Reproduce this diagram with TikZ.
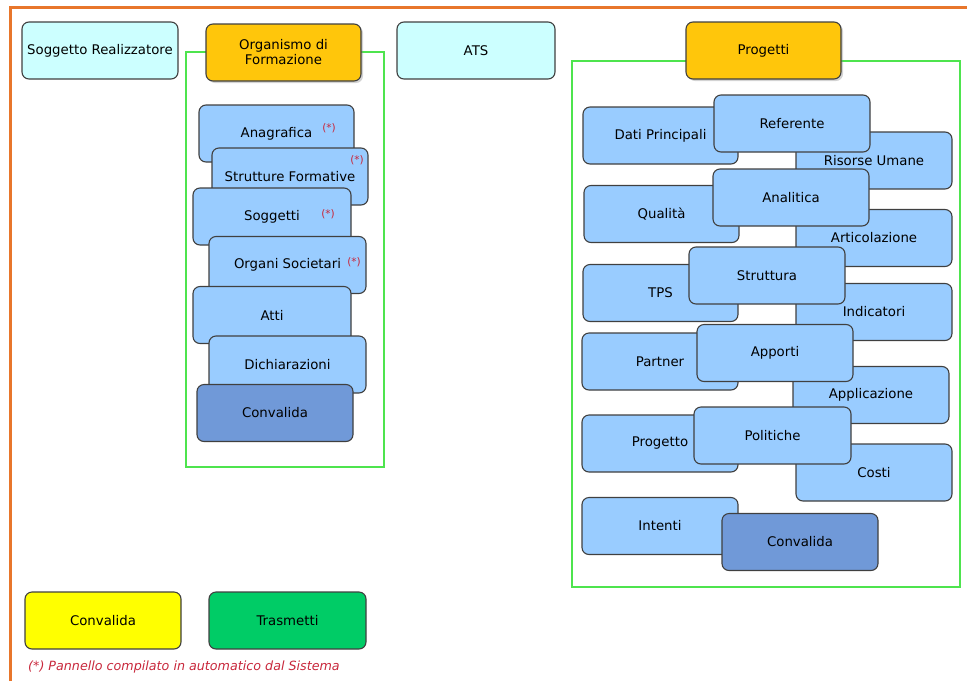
\documentclass[tikz,border=0pt]{standalone}
\usepackage{fontspec}
\setmainfont{DejaVu Sans}
\usetikzlibrary{shadows}
\definecolor{cyanbox}{HTML}{CCFFFF}
\definecolor{goldbox}{HTML}{FFC60B}
\definecolor{lightblue}{HTML}{99CCFF}
\definecolor{darkblue}{HTML}{7099D8}
\definecolor{yellowbox}{HTML}{FFFF00}
\definecolor{greenbox}{HTML}{00CC66}
\definecolor{framegreen}{HTML}{4EE44E}
\definecolor{frameorange}{HTML}{E8762B}
\definecolor{notered}{HTML}{C8283C}
\definecolor{boxborder}{HTML}{404040}
\tikzset{
  panel/.style={draw=boxborder, line width=1.1pt, rounded corners=7pt,
    minimum width=156pt, minimum height=57pt, inner sep=0pt,
    font=\fontsize{13.3}{15}\selectfont, align=center},
  lb/.style={panel, fill=lightblue},
  db/.style={panel, fill=darkblue},
  cb/.style={panel, fill=cyanbox},
  gb/.style={panel, fill=goldbox, drop shadow={shadow xshift=2pt, shadow yshift=-2pt, opacity=0.35}},
  star/.style={text=notered, font=\fontsize{10.5}{12}\selectfont, inner sep=0pt},
  gframe/.style={draw=framegreen, line width=2.8pt},
}
\begin{document}
\begin{tikzpicture}[x=1pt,y=-1pt]
\useasboundingbox (0,0) rectangle (967,681);
% orange frame
\coordinate (oTL) at (10,7);
\coordinate (oTR) at (967,7);
\coordinate (oBL) at (10,681);
\draw[frameorange, line width=3pt] (oBL) -- (oTL) -- (oTR);
% green frames
\draw[gframe] (186,52) rectangle (384,467);
\draw[gframe] (572,61) rectangle (960,587);
% top row
\node[cb] (sr) at (100,50.5) {Soggetto Realizzatore};
\node[gb, minimum width=155pt] (odf) at (283.5,52.5) {Organismo di\\Formazione};
\node[cb, minimum width=158pt] (ats) at (476,50.5) {ATS};
\node[gb, minimum width=155pt] (prog) at (763.5,50.5) {Progetti};
% left stack
\node[lb, minimum width=155pt] (ana) at (276.5,133.5) {Anagrafica};
\node[star] (s1) at (329,128) {(*)};
\node[lb] (str) at (290,176.5) {Strutture Formative};
\node[star] (s2) at (357,160) {(*)};
\node[lb, minimum width=158pt] (sog) at (272,216.5) {Soggetti};
\node[star] (s3) at (328,214) {(*)};
\node[lb, minimum width=157pt] (org) at (287.5,265) {Organi Societari};
\node[star] (s4) at (354,262) {(*)};
\node[lb, minimum width=158pt] (atti) at (272,315) {Atti};
\node[lb, minimum width=157pt] (dich) at (287.5,364.5) {Dichiarazioni};
\node[db] (conv1) at (275,413) {Convalida};
% right stack
\node[lb, minimum width=155pt] (dp) at (660.5,135.5) {Dati Principali};
\node[lb] (ru) at (874,160.5) {Risorse Umane};
\node[lb] (ref) at (792,123.5) {Referente};
\node[lb, minimum width=155pt] (qual) at (661.5,214) {Qualità};
\node[lb] (art) at (874,238) {Articolazione};
\node[lb] (anal) at (791,197.5) {Analitica};
\node[lb, minimum width=155pt] (tps) at (660.5,293) {TPS};
\node[lb] (ind) at (874,312) {Indicatori};
\node[lb] (strut) at (767,275.5) {Struttura};
\node[lb] (part) at (660,361.5) {Partner};
\node[lb] (appl) at (871,395) {Applicazione};
\node[lb] (app) at (775,353) {Apporti};
\node[lb] (progt) at (660,443.5) {Progetto};
\node[lb] (costi) at (874,472.5) {Costi};
\node[lb, minimum width=157pt] (pol) at (772.5,435.5) {Politiche};
\node[lb] (int) at (660,526) {Intenti};
\node[db] (conv2) at (800,542) {Convalida};
% bottom buttons
\node[panel, fill=yellowbox] (convy) at (103,620.5) {Convalida};
\node[panel, fill=greenbox, minimum width=157pt] (tras) at (287.5,620.5) {Trasmetti};
\node[anchor=west, text=notered, inner sep=0pt, font=\fontsize{12.7}{14}\selectfont\itshape] (note) at (28,667) {(*) Pannello compilato in automatico dal Sistema};
\end{tikzpicture}
\end{document}
